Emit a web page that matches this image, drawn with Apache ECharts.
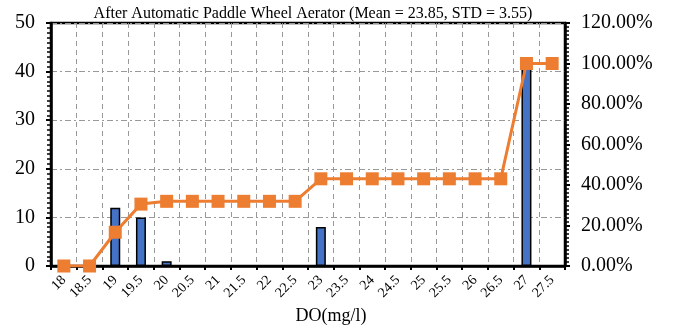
<!DOCTYPE html>
<html>
<head>
<meta charset="utf-8">
<script src="https://cdn.jsdelivr.net/npm/echarts@6/dist/echarts.min.js"></script>
<style>
  html, body { margin: 0; padding: 0; background: #fff; }
  #chart { width: 673px; height: 327px; }
</style>
</head>
<body>
<div id="chart"></div>
<script>
  /** Data */
  var categories = ['18', '18.5', '19', '19.5', '20', '20.5', '21', '21.5', '22', '22.5',
                    '23', '23.5', '24', '24.5', '25', '25.5', '26', '26.5', '27', '27.5'];
  var counts = [0, 0, 12, 10, 1, 0, 0, 0, 0, 0, 8, 0, 0, 0, 0, 0, 0, 0, 41, 0];
  var cumulative = [0, 0, 16.67, 30.56, 31.94, 31.94, 31.94, 31.94, 31.94, 31.94,
                    43.06, 43.06, 43.06, 43.06, 43.06, 43.06, 43.06, 43.06, 100, 100];
  var titleText = 'After Automatic Paddle Wheel Aerator (Mean = 23.85, STD = 3.55)';
  var xName = 'DO(mg/l)';

  var font = '"Liberation Serif", "Times New Roman", serif';
  var gridX = [6, 3, 2, 3];

  var option = {
    animation: false,
    textStyle: { fontFamily: font },
    title: {
      text: titleText,
      left: 308, top: 1, textAlign: 'center',
      textStyle: { fontFamily: font, fontSize: 16, fontWeight: 'normal', color: '#000' }
    },
    grid: {
      left: 51, right: 108, top: 23, bottom: 61,
      outerBoundsMode: 'none', containLabel: false,
      show: true, borderColor: '#000', borderWidth: 2.5, backgroundColor: 'transparent'
    },
    xAxis: {
      type: 'category',
      data: categories,
      boundaryGap: true,
      name: xName,
      nameLocation: 'middle',
      nameGap: 40,
      nameTextStyle: { fontFamily: font, fontSize: 18, color: '#000', padding: [0, 0, 0, 46] },
      axisLine: { lineStyle: { color: '#000', width: 2.5 } },
      axisTick: { show: true, alignWithLabel: false, length: 4, lineStyle: { color: '#000', width: 2 } },
      axisLabel: { interval: 0, rotate: 45, fontSize: 14, color: '#000', fontFamily: font, margin: 12 },
      splitLine: { show: true, interval: 0, lineStyle: { color: '#999', type: [5, 4], width: 1 } }
    },
    yAxis: [
      {
        type: 'value', min: 0, max: 50, interval: 10,
        axisLine: { show: true, lineStyle: { color: '#000', width: 2.5 } },
        axisTick: { show: true, length: 5, lineStyle: { color: '#000', width: 2 } },
        minorTick: { show: true, splitNumber: 10, length: 4, lineStyle: { color: '#000', width: 1.5 } },
        axisLabel: { fontSize: 20, color: '#000', fontFamily: font, margin: 16 },
        splitLine: { show: true, lineStyle: { color: '#999', type: gridX, width: 1 } }
      },
      {
        type: 'value', min: 0, max: 120, interval: 20, position: 'right',
        axisLine: { show: true, lineStyle: { color: '#000', width: 2.5 } },
        axisTick: { show: true, length: 5, lineStyle: { color: '#000', width: 2 } },
        minorTick: { show: true, splitNumber: 10, length: 4, lineStyle: { color: '#000', width: 1.5 } },
        axisLabel: {
          fontSize: 20, color: '#000', fontFamily: font, margin: 16,
          formatter: function (v) { return v.toFixed(2) + '%'; }
        },
        splitLine: { show: false }
      }
    ],
    series: [
      {
        name: 'Frequency',
        type: 'bar',
        data: counts,
        barWidth: 10,
        itemStyle: { color: '#4472C4', borderColor: '#000', borderWidth: 1.5 }
      },
      {
        name: 'Cumulative %',
        type: 'line',
        yAxisIndex: 1,
        data: cumulative,
        symbol: 'rect',
        symbolSize: 13,
        lineStyle: { color: '#ED7D31', width: 3 },
        itemStyle: { color: '#ED7D31' }
      }
    ]
  };

  echarts.init(document.getElementById('chart')).setOption(option);
</script>
</body>
</html>
